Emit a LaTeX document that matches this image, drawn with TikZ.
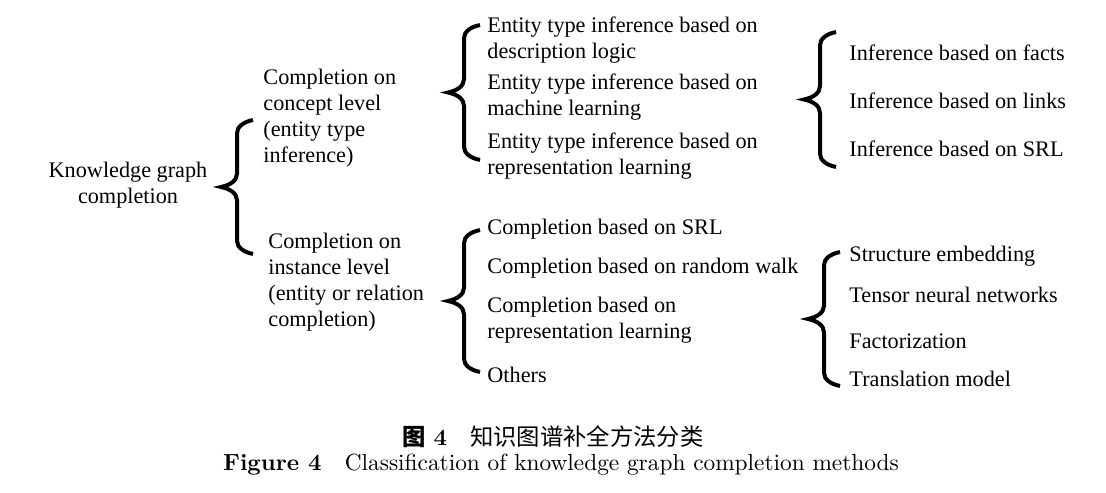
\documentclass[tikz,border=0pt]{standalone}
\usepackage{fontspec}
\newfontfamily\timesfont{Liberation Serif}
\newfontfamily\cjk{Noto Sans CJK SC}
\usetikzlibrary{decorations.pathreplacing}

\begin{document}
\begin{tikzpicture}[
    x=0.45pt, y=-0.45pt,
    every node/.style={font=\timesfont\fontsize{10}{11.7}\selectfont, inner sep=0pt},
]

% ================================================================
% Geometry in pixels of the 1106 x 493 frame (y grows downwards).
%
%   root text centred at x = 128, brace 1 ends at x = 253
%   level-1 texts start at x = 263 / 268
%   level-2 braces end at x = 480, their texts start at x = 487
%   level-3 braces end at x = 836 / 840, their texts start at x = 849
%   every brace is 32 px deep, tip at the middle of its span
%   captions centred near x = 555, at y = 437 and y = 465
% ================================================================

\tikzset{
    bracegroup/.style={
        draw, line width=1.8pt,
        decorate, decoration={brace, amplitude=6pt, transform={yscale=2.4}},
    },
    leaf/.style={anchor=west, align=left},
    caption/.style={font=\normalfont\fontsize{10.5}{12}\selectfont},
}

\useasboundingbox (0,0) rectangle (1106,493);

% ---------------------------------------------------------------- root
\node[align=center] (root) at (128,185) {Knowledge graph\\completion};

\coordinate (b1s) at (253,254);
\coordinate (b1e) at (253,120);
\draw[bracegroup] (b1s) -- (b1e);

% ---------------------------------------------------------------- level 1
\node[leaf] (concept) at (263,118)
    {Completion on\\concept level\\(entity type\\inference)};
\node[leaf] (instance) at (268,282)
    {Completion on\\instance level\\(entity or relation\\completion)};

% ---------------------------------------------------------------- concept level
\coordinate (b2s) at (480,160);
\coordinate (b2e) at (480,25);
\draw[bracegroup] (b2s) -- (b2e);

\foreach \n/\y/\t in {1/40/{Entity type inference based on\\description logic},
                      2/97/{Entity type inference based on\\machine learning},
                      3/156/{Entity type inference based on\\representation learning}} {
    \node[leaf] (etype\n) at (487,\y) {\t};
}

\coordinate (b3s) at (836,167);
\coordinate (b3e) at (836,32);
\draw[bracegroup] (b3s) -- (b3e);

\foreach \n/\y/\t in {1/53/facts, 2/101/links, 3/149/SRL} {
    \node[leaf] (infer\n) at (849,\y) {Inference based on \t};
}

% ---------------------------------------------------------------- instance level
\coordinate (b4s) at (480,372);
\coordinate (b4e) at (480,230);
\draw[bracegroup] (b4s) -- (b4e);

\foreach \n/\y/\t in {1/229/{Completion based on SRL},
                      2/268/{Completion based on random walk},
                      3/320/{Completion based on\\representation learning},
                      4/375/{Others}} {
    \node[leaf] (comp\n) at (487,\y) {\t};
}

\coordinate (b5s) at (840,386);
\coordinate (b5e) at (840,252);
\draw[bracegroup] (b5s) -- (b5e);

\foreach \n/\y/\t in {1/256/{Structure embedding},
                      2/295/{Tensor neural networks},
                      3/341/{Factorization},
                      4/379/{Translation model}} {
    \node[leaf] (model\n) at (849,\y) {\t};
}

% ---------------------------------------------------------------- captions
\node[caption] (capzh) at (553,437)
    {{\cjk\bfseries 图}~\textbf{4}\quad{\cjk 知识图谱补全方法分类}};
\node[caption] (capen) at (561,465)
    {\textbf{Figure 4}\quad Classification of knowledge graph completion methods};

\end{tikzpicture}
\end{document}
